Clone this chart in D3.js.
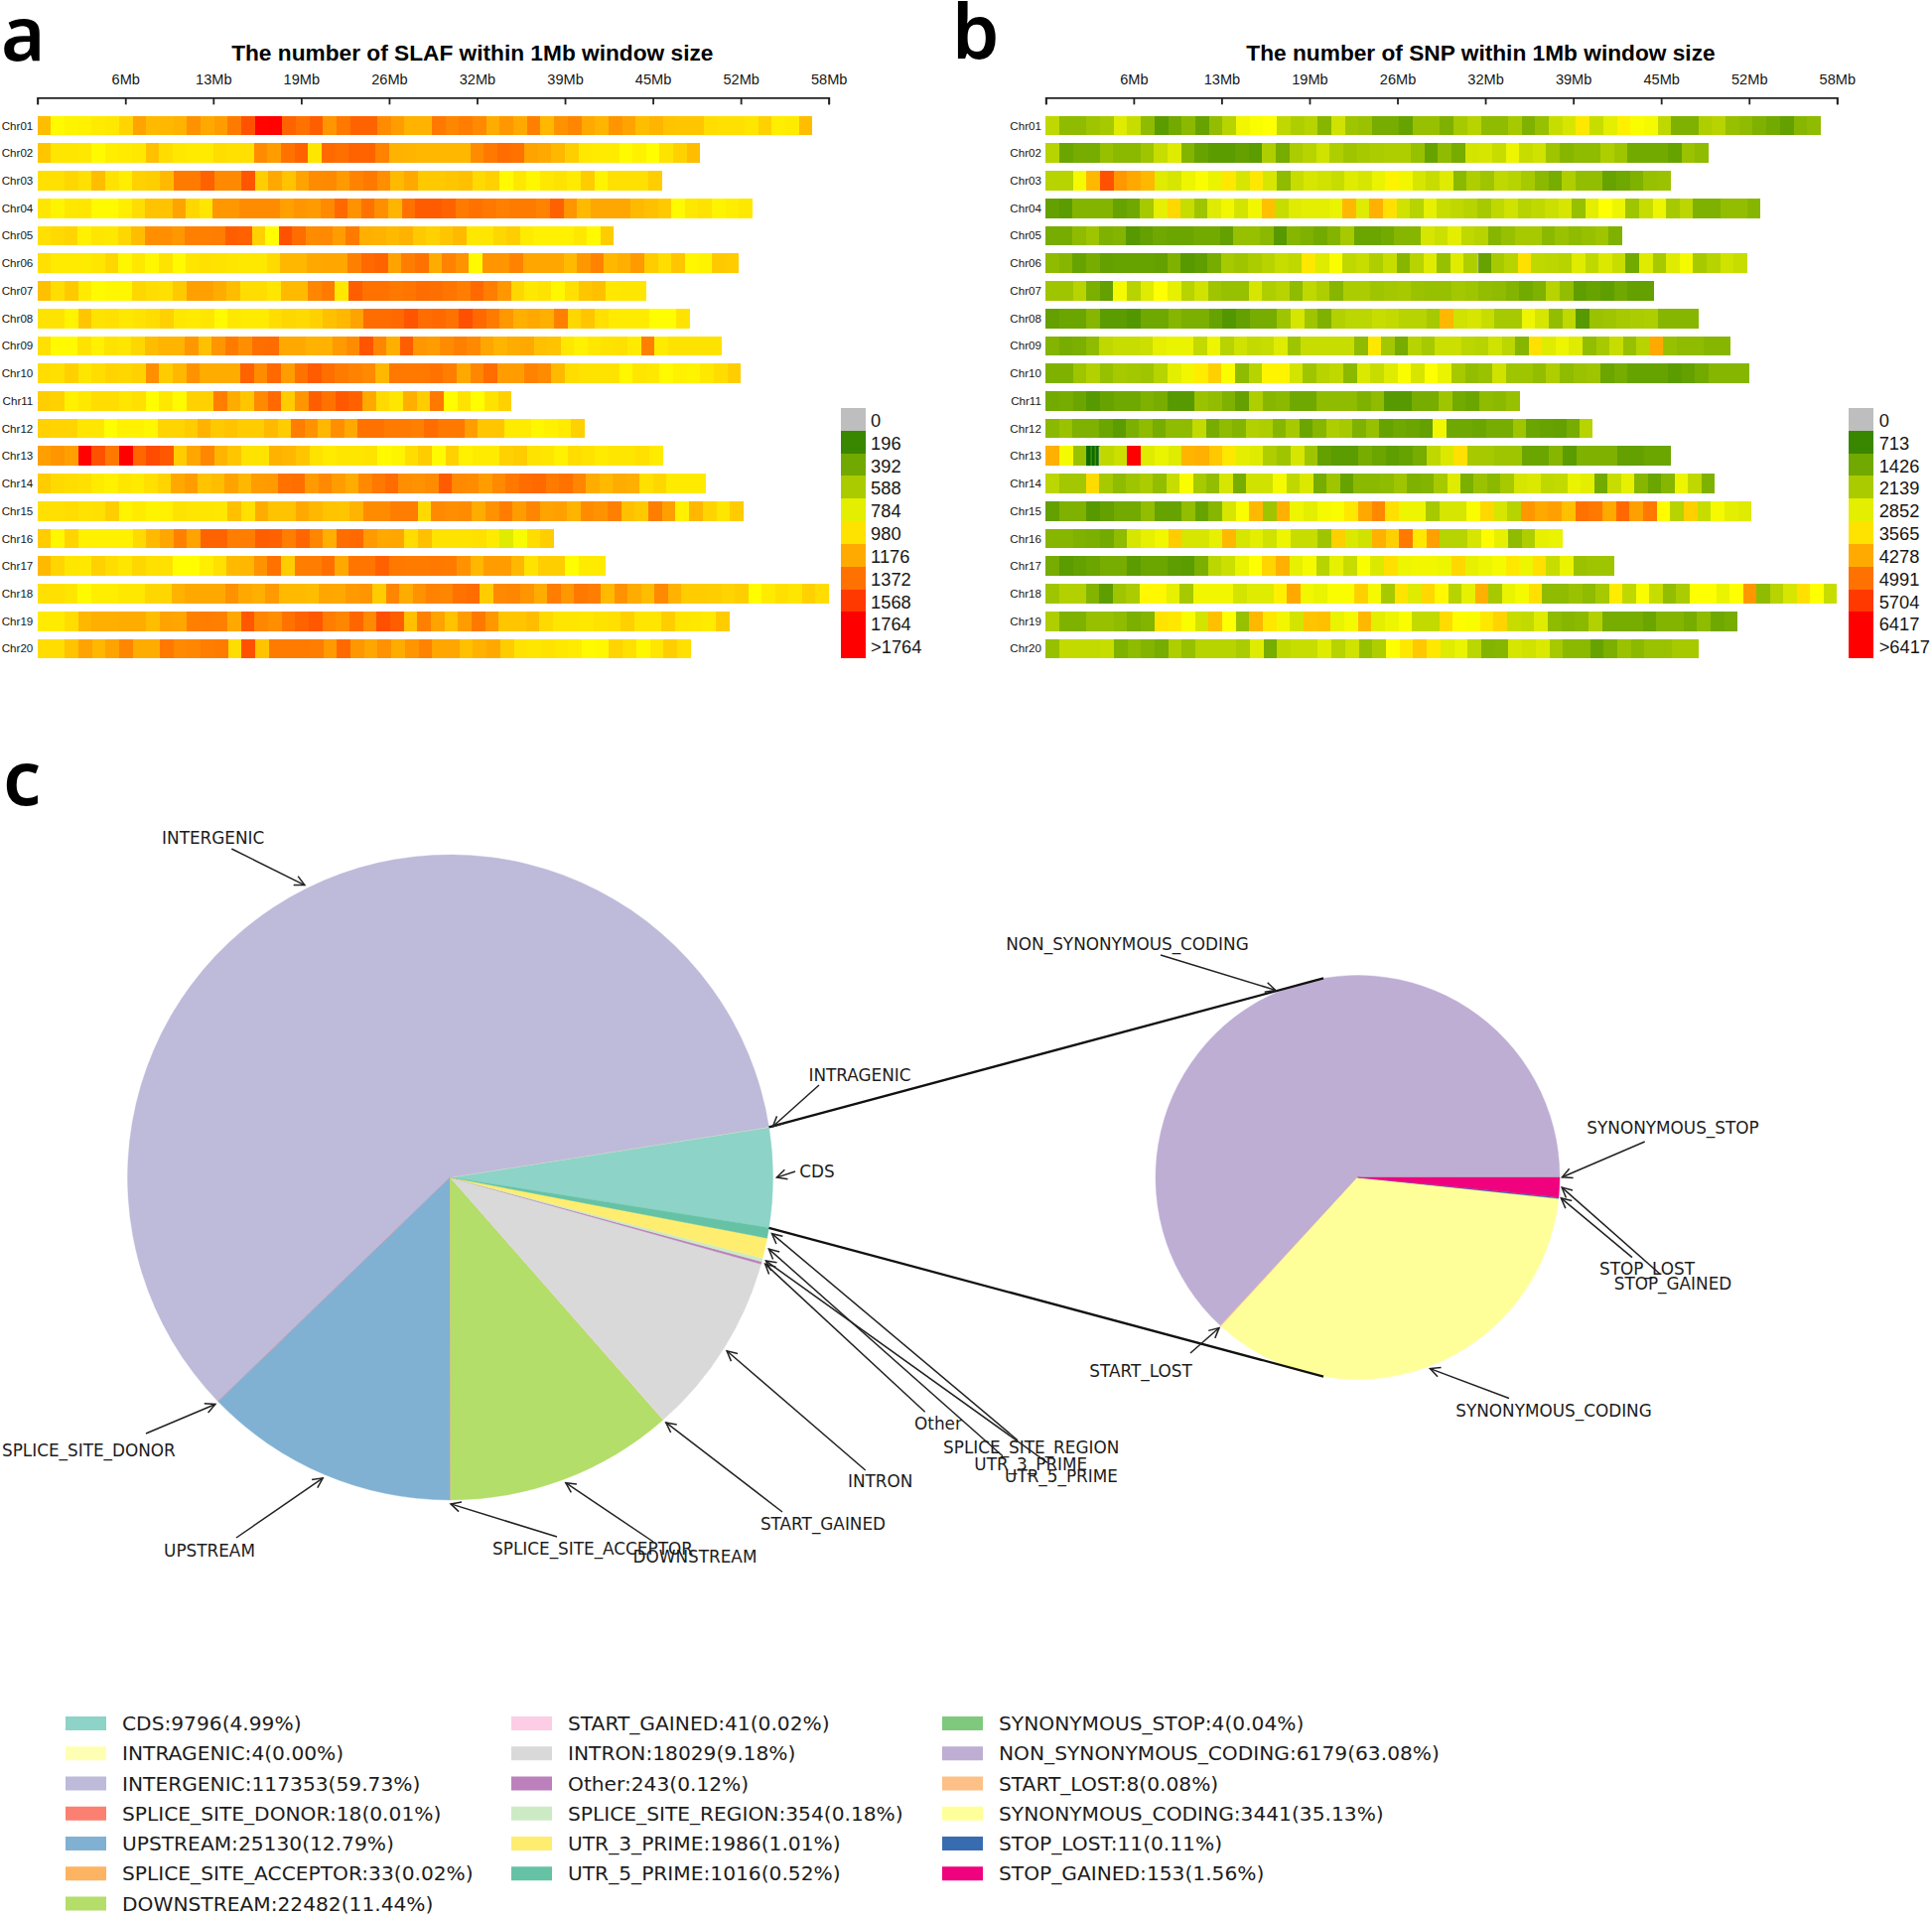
<!DOCTYPE html>
<html>
<head>
<meta charset="utf-8">
<script src="https://d3js.org/d3.v7.min.js"></script>
<style>
  html, body { margin: 0; padding: 0; background: #fff; }
  svg { display: block; }
</style>
</head>
<body>
<script>
var chromosomes = ['Chr01','Chr02','Chr03','Chr04','Chr05','Chr06','Chr07','Chr08','Chr09','Chr10',
  'Chr11','Chr12','Chr13','Chr14','Chr15','Chr16','Chr17','Chr18','Chr19','Chr20'];

// chromosome length in Mb
var chrLengths = [57.3,49,46.2,52.85,42.6,51.85,45,48.25,50.6,52,35.05,40.45,46.25,49.45,52.2,38.2,42,58.5,51.15,48.3];

var tickValues = [0,6.5,13,19.5,26,32.5,39,45.5,52,58.5];
var tickLabels = ['','6Mb','13Mb','19Mb','26Mb','32Mb','39Mb','45Mb','52Mb','58Mb'];

// SLAF count per 1Mb window, one row per chromosome
var slafBins = [
  [1110,900,920,930,950,960,1030,1200,1120,1130,1150,1260,1180,1220,1340,1480,1750,1760,1420,1370,1440,1250,1350,1420,1420,1280,1220,1150,1150,1350,1300,1330,1290,1170,1240,1180,1320,1130,1260,1300,1180,1140,1250,1200,1110,1140,1090,1080,1080,1000,990,990,970,1040,940,950,1110],
  [1080,970,970,960,900,940,950,960,1100,1000,960,950,950,1000,990,990,1280,1220,1370,1420,970,1400,1380,1420,1420,1310,1150,1140,1130,1130,1130,1130,1280,1350,1390,1370,1200,1180,1130,1050,960,950,950,900,930,890,980,1040,1110],
  [990,990,1020,990,1110,980,940,1040,1050,1120,1340,1340,1430,1290,1290,1470,1050,1180,1090,1200,1280,1290,1230,1310,1350,1270,1120,1180,1070,1070,1080,1100,1010,1040,900,960,910,960,980,950,1060,920,990,990,990,1050],
  [970,920,960,970,900,900,940,1000,1090,1090,1200,1020,970,1240,1240,1280,1280,1280,1210,1250,1230,1290,1400,1260,1370,1270,1140,1370,1450,1450,1420,1340,1370,1350,1320,1340,1340,1310,1430,1250,1120,1190,1190,1190,1120,1100,1070,900,960,980,920,940,960],
  [990,1010,1030,930,970,960,1020,1110,1270,1270,1240,1320,1320,1330,1440,1430,1040,890,1480,1390,1280,1290,1220,1340,1160,1150,1120,1150,1070,1040,1080,1120,960,970,1020,1050,950,930,930,930,960,900,1060],
  [990,950,950,950,970,1020,910,960,910,980,900,970,990,980,970,960,960,1010,1130,1130,1180,1190,1190,1320,1400,1420,1200,1330,1370,1170,1310,1260,900,1250,1250,1310,1190,1190,1190,1120,1240,1310,1130,1160,1230,1060,1000,1080,910,920,1070,1060],
  [1100,1000,1070,950,900,910,910,1020,1000,990,1070,1210,1210,1170,1110,1000,1000,970,1120,1120,1300,1340,960,1440,1370,1370,1350,1360,1390,1380,1360,1330,1400,1330,1240,1020,960,980,910,990,1080,1100,960,970,970],
  [980,980,920,1080,980,990,960,980,1000,1040,960,950,970,900,960,950,950,1000,1020,1010,1040,1100,1130,1200,1390,1390,1400,1470,1390,1400,1370,1490,1400,1340,1240,1160,1180,1160,1320,1020,1080,990,950,950,950,890,890,980],
  [990,900,900,980,930,980,970,1020,1110,1140,1140,1240,1100,1250,1340,1270,1380,1390,1180,1180,1150,1150,1230,1280,1470,1300,1160,1440,1240,1220,1280,1320,1290,1190,1140,1170,1180,1100,1090,960,930,960,980,990,950,1320,950,980,980,980,980],
  [1000,990,1040,970,1000,1030,1020,1040,1270,1060,1130,1260,1170,1170,1170,1420,1280,1400,1220,1370,1450,1380,1340,1310,1290,1130,1350,1350,1350,1370,1330,1180,1300,1390,1220,1220,1310,1280,1120,1000,980,980,980,910,970,960,900,930,920,960,1000,1050],
  [1050,1040,930,960,1000,1000,970,990,890,960,900,1040,1040,1330,1170,1080,1290,1400,1060,1250,1440,1370,1460,1430,1180,1010,970,1160,1060,1350,890,980,890,980,1040],
  [1040,1030,1030,970,970,890,930,930,910,1030,1030,1060,1150,1070,1090,1060,1060,1120,1060,1330,1260,1130,1270,1180,1370,1370,1340,1340,1320,1390,1350,1350,1220,1080,1080,950,950,910,930,950,1040],
  [1210,1250,1210,1760,1480,1350,1764,1410,1500,1460,1060,1190,1300,1140,1080,980,980,1150,1130,1080,980,950,970,970,980,900,920,1000,1060,900,1040,930,950,950,1040,1060,980,970,930,1000,980,950,970,970,990,950],
  [1060,1010,1000,990,950,930,970,950,990,1030,1180,1220,1090,1110,1200,1130,1220,1230,1370,1380,1230,1290,1220,1170,1290,1350,1390,1270,1260,1280,1450,1290,1280,1220,1290,1350,1390,1400,1340,1370,1300,1170,1120,1170,1160,990,1020,950,950,950],
  [990,990,1000,980,990,1050,920,950,920,930,980,970,970,960,1100,990,1170,1090,1090,1180,1130,1090,1080,1140,1280,1280,1330,1330,1010,1290,1270,1280,1170,1260,1330,1220,1300,1200,1210,1140,1280,1260,1320,1100,1070,1330,1210,930,1130,1030,970,1060],
  [1060,910,1030,930,930,930,930,1010,1120,1190,1320,1200,1420,1420,1330,1330,1440,1430,1330,1410,1300,1160,1390,1400,1230,1180,1190,1000,1100,980,980,980,990,950,770,860,1000,1050],
  [1120,1030,970,960,1040,1000,970,1020,990,990,890,890,940,990,1120,1130,1260,1370,1060,1330,1330,1380,1180,1360,1360,1430,1350,1340,1340,1350,1340,1260,1130,1220,1220,1130,980,1050,1050,890,950,950],
  [990,990,970,900,940,940,960,960,1020,1020,1150,1180,1180,1180,1260,1180,1160,1230,1120,1120,1110,1190,1180,1230,1250,1060,1300,1170,1260,1310,1300,1370,1390,1060,1290,1300,1250,1170,1330,1240,1350,1330,1120,1260,1170,1110,1290,1150,1060,1060,1050,1030,1050,890,950,990,970,1040,1000],
  [950,950,1000,1130,1160,1160,1170,1170,1110,1200,1190,1320,1330,1320,1180,1460,1300,1270,1370,1420,1460,1330,1300,1410,1290,1490,1440,1100,1320,1200,1090,1220,1350,1240,1080,1080,1110,1010,970,970,960,980,990,1040,970,970,1050,970,960,950,1060],
  [1000,1000,1090,1200,1130,1200,1300,1170,1170,1350,1290,1300,1330,1340,1000,1480,1090,1340,1340,1340,1330,1230,1400,1240,1190,1260,1170,1250,1310,1190,1190,1100,1150,1180,1060,980,970,980,960,950,900,910,1030,990,910,970,1050,990]
];

// SNP count per 1Mb window, one row per chromosome
var snpBins = [
  [2400,1800,1800,2000,2100,2800,2500,1800,1150,1450,1750,1300,1850,2300,3050,3150,3200,2400,2200,2300,1700,2600,2000,1950,1500,1500,1300,1900,1900,1600,2100,2300,1800,1800,2100,1600,1900,2500,2700,3500,2500,2850,3400,3150,3100,2400,1600,1600,2200,2300,1900,1800,1600,1450,1250,1700,1800],
  [2300,1350,1500,1500,1900,1750,1750,2000,2500,2800,1650,1300,1150,1150,1250,1150,2200,1500,2150,2300,2600,2200,2000,2100,2150,2200,2200,1900,1300,1800,1500,2650,2700,2500,3000,2500,2600,2000,1700,1800,1800,2200,2000,1450,1450,1450,1300,1950,1800],
  [2300,2300,3100,4100,5400,4500,4300,4100,2800,2700,3000,3150,2950,3500,2700,3500,2700,1800,2500,2700,2600,2500,2800,2700,2950,3350,3050,2700,2500,2800,1750,2200,2000,2400,2300,2100,1750,1500,2200,1850,1850,1300,1400,1600,1900,1950],
  [1250,1150,1650,1650,1650,1300,1400,2100,2900,3700,2500,2000,2800,3050,2650,3050,4000,2500,2800,2850,2850,2950,4100,2800,4200,3600,2600,2300,2900,2500,2400,2300,2100,2400,2600,2300,2400,2550,2700,1900,2850,3200,3000,2000,2500,3000,2100,2350,1600,1600,1850,1850,1700],
  [1500,1500,1800,2000,1600,1650,1100,1250,1400,1350,1350,1450,1450,1250,1900,1900,1750,1100,1700,1600,1450,1650,2100,1350,1350,1450,1700,1700,2700,2550,2850,2400,2300,1700,1900,2100,2100,1750,1950,1800,1900,2000,1600],
  [1800,1700,1300,1500,1250,1300,1300,1300,1250,1600,1100,1200,1500,2100,2000,2150,2300,2500,2400,3500,2800,3150,2400,2500,2200,2500,1700,2300,2800,1900,2800,2200,1300,2100,2300,3600,2400,2350,2300,2800,2400,2750,2500,1450,2800,2100,2800,3100,2100,2300,2600,2500],
  [2000,2000,2300,1550,1250,3100,2300,2800,3200,2900,2300,2600,2000,1900,1900,2700,2200,2300,1800,2400,2200,1700,2150,2150,2000,2050,2100,1950,1900,1900,2050,2000,1850,1800,1650,1450,1600,2300,1850,1200,1300,1200,1400,1250,1250],
  [1250,1350,1350,1700,1150,1150,1050,1400,1400,1700,1550,1550,1300,1050,1250,1500,1500,2000,2700,2000,1600,2250,2350,2350,2500,2450,2300,2300,2100,4100,2600,2700,2500,2100,2100,3000,2700,1850,2400,1100,1950,2000,2100,2150,2200,1700,1700,1700],
  [1650,1500,1550,1800,2400,2500,2500,2550,2900,2950,2950,2450,3000,2300,2600,2450,2500,2800,2000,2500,2500,2500,2500,1800,3500,2050,1500,2300,2100,2550,2550,2350,2300,2600,2350,1700,3600,2800,3000,2800,1850,2100,2500,1900,2300,4300,1900,1800,1800,1700,1700],
  [1600,1600,2000,2250,1900,2100,2050,2000,2300,2850,3050,3450,3800,3150,1800,2300,3350,3350,2650,2000,2300,2400,1750,2750,2500,2800,3150,2700,3200,2950,2100,1850,1950,2600,2000,2000,1850,2200,1800,1950,2000,1350,1500,1300,1300,1300,1150,1250,1450,1700,1700,1700],
  [1450,1500,1350,1100,1300,1400,1400,1600,1500,1100,1100,1950,1850,1600,1250,2200,1700,1750,1400,1400,1800,1800,1800,1600,1800,1100,1100,1500,1500,2000,1450,1350,1800,1750,1900],
  [1750,1950,1600,1600,1350,1150,1550,1800,1500,1800,1800,2450,1500,1800,1650,2250,2200,1700,2100,1350,1700,2200,2100,1600,1900,1300,1400,1350,1250,3050,1400,1400,1350,1500,1500,2000,1350,1300,1250,1500,2300],
  [4200,3100,1950,400,2400,2550,6500,2800,2950,2800,4150,4200,3900,3500,2850,2800,2200,2000,2700,2000,1250,1150,1150,1500,1350,1200,1300,1500,2400,2750,3600,2100,2100,2000,2000,1350,1350,1700,1150,1600,1600,1600,1250,1250,1350,1350],
  [2350,2050,2050,3650,2100,1800,2000,2150,1850,2500,3150,2100,1850,2700,1500,2600,2600,3100,2400,2750,1500,2000,1300,1750,1750,1800,2000,1600,1650,2100,2800,1550,1950,1750,2100,2700,2750,2400,2450,2950,2850,1450,2500,2900,1700,1350,1700,3000,2400,1600],
  [1250,1600,1600,1100,1250,1450,1450,1850,1300,1300,1850,1300,1700,2700,3150,4100,2000,4200,3000,2850,3100,3150,3500,4300,4700,3600,3000,3000,2100,2700,2700,3150,3700,2700,2300,4500,4300,4400,4000,5000,4900,4300,5100,4400,4900,3250,2300,3800,2500,3100,2850,2800],
  [1700,1700,1600,1550,1450,1800,2700,2900,3050,3850,2700,2700,2900,4100,2700,2850,2600,3000,2500,2500,2000,3800,2750,2600,4200,3800,4900,3500,4400,2300,2300,2700,3250,2900,1800,2200,2900,2950],
  [1500,1150,1250,1350,1500,1500,1150,1350,1350,1200,1150,1550,2350,2550,2950,3200,3750,4200,2900,3100,2300,2900,2500,3150,2750,3600,3000,3050,3050,3000,3700,2900,3000,3100,3500,3000,3600,2500,2950,1950,2000,2000],
  [2000,2250,2250,1650,1200,2000,2150,3300,3300,2900,2100,3050,3050,3050,2650,2800,2800,3400,4300,3050,2950,3150,3150,3800,3100,2100,3550,2800,3700,3300,2300,2900,4200,2100,2950,3100,3600,1800,1800,1950,1800,2100,3450,2400,3150,2500,1850,2150,3200,3200,2950,3200,4500,1800,2300,2700,3600,3200,2500],
  [2200,1600,1600,1900,1900,1800,1550,1650,3550,3500,3150,2650,4000,3200,1900,4100,3500,3050,2650,3950,4000,2950,3100,4100,2850,3000,3150,2450,2450,3650,3250,3150,3500,3750,2500,2450,2800,1800,1700,1750,2250,1500,1500,1500,1350,1650,1650,1500,1800,1400,1500],
  [1900,2450,2450,2450,2500,1600,1800,1650,1500,2200,1900,2300,2300,2300,2150,2800,1500,2400,2500,2500,2800,2300,2600,1900,2200,3200,3500,3900,3500,2800,2950,2350,1650,1700,2700,2600,2750,2100,1750,1750,1300,1550,1950,1750,1950,1950,2100,2100]
];

// thin stripes inside single SNP windows
var snpFineChr = ['Chr06','Chr13'];
var snpFineBin = [32,3];
var snpFineValues = [
  [0,1300,1300,1300,1300,1300,1300,1300,1300,1300],
  [150,150,150,950,150,150,950,150,150,0]
];

var slafLegendValues = [0,196,392,588,784,980,1176,1372,1568,1764,1765];
var slafLegendLabels = ['0','196','392','588','784','980','1176','1372','1568','1764','>1764'];
var snpLegendValues = [0,713,1426,2139,2852,3565,4278,4991,5704,6417,6418];
var snpLegendLabels = ['0','713','1426','2139','2852','3565','4278','4991','5704','6417','>6417'];

// effect classes, main pie
var mainNames = ['CDS','INTRAGENIC','INTERGENIC','SPLICE_SITE_DONOR','UPSTREAM','SPLICE_SITE_ACCEPTOR','DOWNSTREAM',
  'START_GAINED','INTRON','Other','SPLICE_SITE_REGION','UTR_3_PRIME','UTR_5_PRIME'];
var mainCounts = [9796,4,117353,18,25130,33,22482,41,18029,243,354,1986,1016];
var mainColors = ['#8dd3c7','#ffffb3','#bebada','#fb8072','#80b1d3','#fdb462','#b3de69','#fccde5','#d9d9d9','#bc80bd','#ccebc5','#ffed6f','#66c2a5'];

// CDS breakdown, second pie
var cdsNames = ['SYNONYMOUS_STOP','NON_SYNONYMOUS_CODING','START_LOST','SYNONYMOUS_CODING','STOP_LOST','STOP_GAINED'];
var cdsCounts = [4,6179,8,3441,11,153];
var cdsColors = ['#7fc97f','#beaed4','#fdc086','#ffff99','#386cb0','#f0027f'];

var width = 1946, height = 1930;

var svg = d3.select('body').append('svg')
  .attr('width', width)
  .attr('height', height);

var helvetica = '"Liberation Sans", Arial, sans-serif';
var dejavu = '"DejaVu Sans", sans-serif';
var inkColor = '#161616';

// arrow head for the pie labels
svg.append('defs').append('marker')
  .attr('id', 'arrow')
  .attr('markerUnits', 'userSpaceOnUse')
  .attr('markerWidth', 16)
  .attr('markerHeight', 16)
  .attr('refX', 11)
  .attr('refY', 8)
  .attr('orient', 'auto')
  .append('path')
  .attr('d', 'M1,3 L11,8 L1,13')
  .attr('fill', 'none')
  .attr('stroke', '#222')
  .attr('stroke-width', 1.5);

// panel letters
var panelLetters = [['a', 1, 60.5], ['b', 959, 58.5], ['c', 3, 811]];
svg.selectAll('text.panel-letter')
  .data(panelLetters)
  .enter().append('text')
  .attr('class', 'panel-letter')
  .attr('x', function(d) { return d[1]; })
  .attr('y', function(d) { return d[2]; })
  .attr('font-family', '"Noto Sans", sans-serif')
  .attr('font-weight', 600)
  .attr('font-size', 76)
  .attr('fill', '#000')
  .text(function(d) { return d[0]; });

// draw one density panel
function drawDensity(opts) {
  var g = svg.append('g');

  var x = d3.scaleLinear()
    .domain([0, 58.5])
    .range([opts.left, opts.left + 797]);

  var y = d3.scaleBand()
    .domain(chromosomes)
    .range([116.7, 663.3])
    .paddingInner(0.29);

  // green - yellow - red, same ramp the legend uses
  var color = d3.scaleLinear()
    .domain([0, opts.max / 2, opts.max])
    .range(['#006400', '#ffff00', '#ff0000'])
    .clamp(true);

  function binColor(v) {
    return v === 0 ? '#bebebe' : color(v);
  }

  g.append('text')
    .attr('x', opts.titleX)
    .attr('y', 60.5)
    .attr('text-anchor', 'middle')
    .attr('font-family', helvetica)
    .attr('font-weight', 700)
    .attr('font-size', 22.7)
    .attr('fill', '#000')
    .text(opts.title);

  // ticks point down to the bars, labels sit above the line
  var axis = d3.axisBottom(x)
    .tickValues(tickValues)
    .tickFormat(function(d, i) { return tickLabels[i]; })
    .tickSize(7);

  var axisG = g.append('g')
    .attr('transform', 'translate(0,98.3)')
    .call(axis);

  axisG.selectAll('path, line')
    .attr('stroke', '#222')
    .attr('stroke-width', 1.8);

  axisG.selectAll('text')
    .attr('y', -13)
    .attr('dy', 0)
    .attr('font-family', helvetica)
    .attr('font-size', 14.6)
    .attr('fill', inkColor);

  var rows = g.selectAll('g.row')
    .data(chromosomes)
    .enter().append('g')
    .attr('class', 'row')
    .attr('transform', function(d) { return 'translate(0,' + y(d) + ')'; });

  rows.append('text')
    .attr('x', opts.left - 4.4)
    .attr('y', y.bandwidth() / 2 + 4)
    .attr('text-anchor', 'end')
    .attr('font-family', helvetica)
    .attr('font-size', 11.6)
    .attr('fill', inkColor)
    .text(function(d) { return d; });

  rows.each(function(chr, r) {
    var bins = opts.bins[r];
    var step = chrLengths[r] / bins.length;
    d3.select(this).selectAll('rect')
      .data(bins)
      .enter().append('rect')
      .attr('x', function(d, i) { return x(i * step); })
      .attr('width', function(d, i) { return x((i + 1) * step) - x(i * step); })
      .attr('height', y.bandwidth())
      .attr('shape-rendering', 'crispEdges')
      .attr('fill', binColor);

    if (opts.fineChr) {
      var k = opts.fineChr.indexOf(chr);
      if (k >= 0) {
        var fine = opts.fineValues[k];
        var start = opts.fineBin[k] * step;
        d3.select(this).selectAll('rect.fine')
          .data(fine)
          .enter().append('rect')
          .attr('class', 'fine')
          .attr('x', function(d, i) { return x(start + i * step / fine.length); })
          .attr('width', x(step / fine.length) - x(0))
          .attr('height', y.bandwidth())
          .attr('fill', binColor);
      }
    }
  });

  // legend cells
  var ly = d3.scaleBand()
    .domain(d3.range(opts.legendValues.length))
    .range([411, 662]);

  g.selectAll('rect.legend')
    .data(opts.legendValues)
    .enter().append('rect')
    .attr('class', 'legend')
    .attr('x', opts.legendX)
    .attr('y', function(d, i) { return ly(i); })
    .attr('width', 25)
    .attr('height', ly.bandwidth() + 0.5)
    .attr('shape-rendering', 'crispEdges')
    .attr('fill', binColor);

  g.selectAll('text.legend')
    .data(opts.legendLabels)
    .enter().append('text')
    .attr('class', 'legend')
    .attr('x', opts.legendX + 30.4)
    .attr('y', function(d, i) { return ly(i) + ly.bandwidth() / 2 + 7.6; })
    .attr('font-family', helvetica)
    .attr('font-size', 18.3)
    .attr('fill', inkColor)
    .text(function(d) { return d; });
}

drawDensity({
  left: 37.7,
  title: 'The number of SLAF within 1Mb window size',
  titleX: 475.8,
  bins: slafBins,
  max: 1764,
  legendX: 846.7,
  legendValues: slafLegendValues,
  legendLabels: slafLegendLabels
});

drawDensity({
  left: 1053.3,
  title: 'The number of SNP within 1Mb window size',
  titleX: 1491.5,
  bins: snpBins,
  max: 6417,
  legendX: 1862.3,
  legendValues: snpLegendValues,
  legendLabels: snpLegendLabels,
  fineChr: snpFineChr,
  fineBin: snpFineBin,
  fineValues: snpFineValues
});

// pies: d3 angles run clockwise from 12 o'clock, both pies here go counter-clockwise
function toRad(deg) { return deg * Math.PI / 180; }

function drawPie(cx, cy, radius, names, counts, colors, startDeg) {
  var start = toRad(90 - startDeg);
  var slices = d3.pie()
    .sort(null)
    .startAngle(start)
    .endAngle(start - 2 * Math.PI)(counts);

  var arc = d3.arc().innerRadius(0).outerRadius(radius);

  svg.append('g')
    .attr('transform', 'translate(' + cx + ',' + cy + ')')
    .selectAll('path')
    .data(slices)
    .enter().append('path')
    .attr('d', arc)
    .attr('fill', function(d, i) { return colors[i]; })
    .attr('stroke', function(d, i) { return colors[i]; })
    .attr('stroke-width', 0.4);

  // point on the circle at the given d3 angle
  function pointAt(angle, r) {
    return [cx + r * Math.sin(angle), cy - r * Math.cos(angle)];
  }

  return {
    slices: slices,
    pointAt: pointAt,
    tip: function(name) {
      var s = slices[names.indexOf(name)];
      return pointAt((s.startAngle + s.endAngle) / 2, radius * 1.012);
    }
  };
}

var mainPie = drawPie(453.5, 1186, 325, mainNames, mainCounts, mainColors, -8.99);
var cdsPie = drawPie(1367.5, 1186, 203.5, cdsNames, cdsCounts, cdsColors, 0);

// connector lines from the CDS wedge to the second pie
var cdsSlice = mainPie.slices[0];
var connectorEnds = [
  [mainPie.pointAt(cdsSlice.endAngle, 325), cdsPie.pointAt(toRad(-9.75), 203.5)],
  [mainPie.pointAt(cdsSlice.startAngle, 325), cdsPie.pointAt(toRad(-170.25), 203.5)]
];

svg.selectAll('line.connector')
  .data(connectorEnds)
  .enter().append('line')
  .attr('class', 'connector')
  .attr('x1', function(d) { return d[0][0]; })
  .attr('y1', function(d) { return d[0][1]; })
  .attr('x2', function(d) { return d[1][0]; })
  .attr('y2', function(d) { return d[1][1]; })
  .attr('stroke', '#111')
  .attr('stroke-width', 2.3);

// label placement: name, label centre x, y, arrow tail x, y
var mainLabelPlaces = [
  ['INTERGENIC', 214.7, 844, 233.3, 855],
  ['INTRAGENIC', 866, 1083.4, 825, 1093],
  ['CDS', 823, 1180, 801, 1180],
  ['SPLICE_SITE_DONOR', 89.4, 1461, 147, 1444],
  ['UPSTREAM', 211, 1562, 238, 1549],
  ['SPLICE_SITE_ACCEPTOR', 597, 1560, 561, 1548],
  ['DOWNSTREAM', 700, 1567.5, 658, 1553],
  ['START_GAINED', 829, 1535, 788, 1523],
  ['INTRON', 886.7, 1492.3, 871.7, 1481],
  ['Other', 945, 1434.3, 931.7, 1422.3],
  ['SPLICE_SITE_REGION', 1038.7, 1458.3, 1055, 1473.3],
  ['UTR_3_PRIME', 1038.3, 1475, 1010, 1466.7],
  ['UTR_5_PRIME', 1069, 1487.3, 1025, 1450.7]
];
var cdsLabelPlaces = [
  ['NON_SYNONYMOUS_CODING', 1135.5, 950.6, 1169, 962],
  ['SYNONYMOUS_STOP', 1685, 1136, 1656.7, 1150],
  ['STOP_LOST', 1659, 1277.7, 1644, 1266.7],
  ['STOP_GAINED', 1685, 1292.7, 1671.7, 1283],
  ['START_LOST', 1149, 1381, 1199, 1363],
  ['SYNONYMOUS_CODING', 1565, 1421, 1520, 1408.5]
];

function drawLabels(places, pie) {
  var g = svg.append('g');

  g.selectAll('line')
    .data(places)
    .enter().append('line')
    .attr('x1', function(d) { return d[3]; })
    .attr('y1', function(d) { return d[4]; })
    .attr('x2', function(d) { return pie.tip(d[0])[0]; })
    .attr('y2', function(d) { return pie.tip(d[0])[1]; })
    .attr('stroke', '#222')
    .attr('stroke-width', 1.5)
    .attr('marker-end', 'url(#arrow)');

  g.selectAll('text')
    .data(places)
    .enter().append('text')
    .attr('x', function(d) { return d[1]; })
    .attr('y', function(d) { return d[2] + 6; })
    .attr('text-anchor', 'middle')
    .attr('font-family', dejavu)
    .attr('font-size', 16.85)
    .attr('fill', '#1c1c1c')
    .text(function(d) { return d[0]; });
}

drawLabels(mainLabelPlaces, mainPie);
drawLabels(cdsLabelPlaces, cdsPie);

// legend below the pies, three columns
var pct = d3.format('.2%');
var mainTotal = d3.sum(mainCounts), cdsTotal = d3.sum(cdsCounts);

function legendEntries(names, counts, colors, total) {
  return names.map(function(name, i) {
    return { color: colors[i], text: name + ':' + counts[i] + '(' + pct(counts[i] / total) + ')' };
  });
}

var mainEntries = legendEntries(mainNames, mainCounts, mainColors, mainTotal);
var cdsEntries = legendEntries(cdsNames, cdsCounts, cdsColors, cdsTotal);

var legendColumns = [
  { x: 66, entries: mainEntries.slice(0, 7) },
  { x: 515, entries: mainEntries.slice(7) },
  { x: 949, entries: cdsEntries }
];

var legendRow = d3.scaleLinear().domain([0, 6]).range([1736, 1917.5]);

legendColumns.forEach(function(col) {
  var items = svg.append('g').selectAll('g')
    .data(col.entries)
    .enter().append('g')
    .attr('transform', function(d, i) { return 'translate(' + col.x + ',' + legendRow(i) + ')'; });

  items.append('rect')
    .attr('y', -7)
    .attr('width', 41)
    .attr('height', 14)
    .attr('fill', function(d) { return d.color; });

  items.append('text')
    .attr('x', 57)
    .attr('y', 7)
    .attr('font-family', dejavu)
    .attr('font-size', 20.2)
    .attr('fill', '#1c1c1c')
    .text(function(d) { return d.text; });
});
</script>
</body>
</html>
